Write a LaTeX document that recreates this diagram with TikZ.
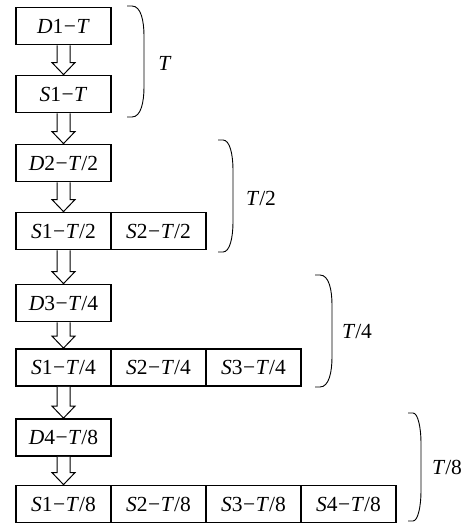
\documentclass[tikz,border=0pt]{standalone}
\usepackage{fontspec}
\setmainfont{Liberation Serif}
\usetikzlibrary{calc}
\tikzset{
  cellbox/.style={draw, line width=1.8pt, minimum width=95pt, minimum height=37pt, inner sep=0pt, font=\fontsize{21.5}{25}\selectfont},
  harrow/.style={draw, line width=1pt, fill=white, line join=miter},
  bracestyle/.style={draw, line width=0.9pt},
  lbl/.style={inner sep=0pt, font=\fontsize{21.5}{25}\selectfont}
}
\newcommand\hollowarrow[2]{%
  \path[harrow] let \p1=(#1.south), \p2=(#2.north) in
    (\x1-6.5pt,\y1) -- (\x1-6.5pt,\y2+12pt) -- (\x1-11.5pt,\y2+12pt) -- (\x1,\y2)
    -- (\x1+11.5pt,\y2+12pt) -- (\x1+6.5pt,\y2+12pt) -- (\x1+6.5pt,\y1);
}
\newcommand\mybrace[4]{%
  \draw[bracestyle] (#1,#3) -- ({#1+5},#3) .. controls ({#2-3},#3) and (#2,{#3+15}) .. (#2,{#3+30})
    -- (#2,{#4-30}) .. controls (#2,{#4-15}) and ({#2-3},#4) .. ({#1+5},#4) -- (#1,#4);
}
\newcommand\D[1]{\textit{#1}}
\newcommand\mn{\kern0.5pt−\kern0.5pt}
\begin{document}
\begin{tikzpicture}[x=1pt,y=-1pt]
\useasboundingbox (0,0) rectangle (472,524);
% level 1
\node[cellbox] (d1) at (63.5,26) {\D{D}1\mn\D{T}};
\node[cellbox] (s11) at (63.5,94) {\D{S}1\mn\D{T}};
% level 2
\node[cellbox] (d2) at (63.5,163) {\D{D}2\mn\D{T}/2};
\node[cellbox] (s21) at (63.5,231) {\D{S}1\mn\D{T}/2};
\node[cellbox] (s22) at (158.5,231) {\D{S}2\mn\D{T}/2};
% level 3
\node[cellbox] (d3) at (63.5,303) {\D{D}3\mn\D{T}/4};
\node[cellbox] (s31) at (63.5,367.5) {\D{S}1\mn\D{T}/4};
\node[cellbox] (s32) at (158.5,367.5) {\D{S}2\mn\D{T}/4};
\node[cellbox] (s33) at (253.5,367.5) {\D{S}3\mn\D{T}/4};
% level 4
\node[cellbox] (d4) at (63.5,437.5) {\D{D}4\mn\D{T}/8};
\node[cellbox] (s41) at (63.5,504) {\D{S}1\mn\D{T}/8};
\node[cellbox] (s42) at (158.5,504) {\D{S}2\mn\D{T}/8};
\node[cellbox] (s43) at (253.5,504) {\D{S}3\mn\D{T}/8};
\node[cellbox] (s44) at (348.5,504) {\D{S}4\mn\D{T}/8};
% arrows
\hollowarrow{d1}{s11}
\hollowarrow{s11}{d2}
\hollowarrow{d2}{s21}
\hollowarrow{s21}{d3}
\hollowarrow{d3}{s31}
\hollowarrow{s31}{d4}
\hollowarrow{d4}{s41}
% braces
\mybrace{127}{144}{6}{117}
\mybrace{218}{233}{140}{252}
\mybrace{315}{332}{275}{387}
\mybrace{408}{421}{413}{521}
\node[lbl] (l1) at (165,63) {\D{T}};
\node[lbl] (l2) at (261,198) {\D{T}/2};
\node[lbl] (l3) at (357,332) {\D{T}/4};
\node[lbl] (l4) at (447,467) {\D{T}/8};
\end{tikzpicture}
\end{document}
